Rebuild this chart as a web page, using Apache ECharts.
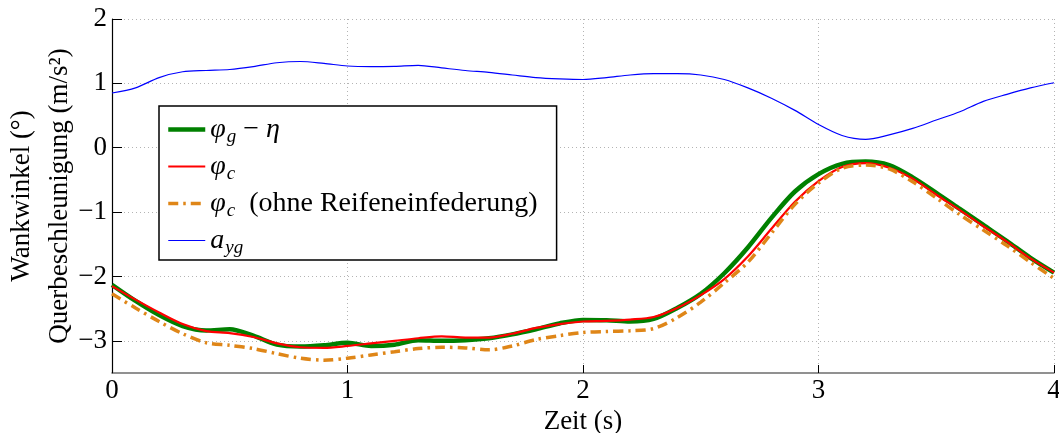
<!DOCTYPE html>
<html>
<head>
<meta charset="utf-8">
<script src="https://cdn.jsdelivr.net/npm/echarts@6/dist/echarts.min.js"></script>
<style>
  html, body { margin: 0; padding: 0; background: #fff; }
  #chart { width: 1059px; height: 433px; }
</style>
</head>
<body>
<div id="chart"></div>
<script>
// Zeitachse (s), Abtastung 0.1 s
const zeit = [0.0, 0.1, 0.2, 0.3, 0.4, 0.5, 0.6, 0.7, 0.8, 0.9,
              1.0, 1.1, 1.2, 1.3, 1.4, 1.5, 1.6, 1.7, 1.8, 1.9,
              2.0, 2.1, 2.2, 2.3, 2.4, 2.5, 2.6, 2.7, 2.8, 2.9,
              3.0, 3.1, 3.2, 3.3, 3.4, 3.5, 3.6, 3.7, 3.8, 3.9, 4.0];

// Wankwinkel phi_g - eta (°)
const phiGminusEta = [-2.13, -2.38, -2.60, -2.77, -2.84, -2.82, -2.92, -3.06, -3.09, -3.07,
                      -3.03, -3.08, -3.06, -2.99, -3.00, -2.99, -2.96, -2.90, -2.82, -2.73,
                      -2.675, -2.68, -2.70, -2.66, -2.49, -2.27, -1.95, -1.55, -1.09, -0.68,
                      -0.41, -0.25, -0.215, -0.27, -0.46, -0.70, -0.95, -1.20, -1.45, -1.71, -1.94];

// Wankwinkel phi_c (°)
const phiC = [-2.15, -2.36, -2.56, -2.74, -2.85, -2.88, -2.94, -3.04, -3.10, -3.11,
              -3.08, -3.04, -3.00, -2.96, -2.93, -2.95, -2.95, -2.89, -2.80, -2.74,
              -2.70, -2.69, -2.67, -2.63, -2.49, -2.29, -2.04, -1.69, -1.26, -0.84,
              -0.52, -0.30, -0.24, -0.31, -0.48, -0.73, -0.97, -1.22, -1.46, -1.72, -1.94];

// Wankwinkel phi_c ohne Reifeneinfederung (°)
const phiCohneReifen = [-2.27, -2.49, -2.70, -2.89, -3.03, -3.07, -3.12, -3.20, -3.27, -3.30,
                        -3.27, -3.22, -3.17, -3.12, -3.10, -3.11, -3.14, -3.08, -2.98, -2.92,
                        -2.87, -2.855, -2.845, -2.81, -2.64, -2.40, -2.10, -1.78, -1.33, -0.88,
                        -0.55, -0.32, -0.27, -0.33, -0.53, -0.78, -1.04, -1.28, -1.52, -1.78, -2.03];

// Querbeschleunigung a_yg (m/s²)
const ayg = [0.85, 0.93, 1.09, 1.18, 1.20, 1.215, 1.26, 1.32, 1.34, 1.31,
             1.27, 1.26, 1.265, 1.28, 1.24, 1.20, 1.17, 1.13, 1.09, 1.07,
             1.06, 1.09, 1.13, 1.15, 1.15, 1.13, 1.06, 0.93, 0.77, 0.58,
             0.36, 0.19, 0.13, 0.20, 0.30, 0.43, 0.56, 0.72, 0.83, 0.93, 1.01];

// Achsenbeschriftungen
const xTicks = [0, 1, 2, 3, 4];
const yTicks = [-3, -2, -1, 0, 1, 2];

const serif = '"Liberation Serif", "DejaVu Serif", serif';
const pair = ys => zeit.map((t, i) => [t, ys[i]]);
const minus = v => (v < 0 ? '\u2212' + Math.abs(v) : String(v));

// Linienstile der vier Kurven
const styles = {
  phiG:  { color: '#008000', width: 4.5, type: 'solid' },
  phiC:  { color: '#ff0000', width: 2.2, type: 'solid' },
  phiC0: { color: '#df8618', width: 3.5, type: [10, 5, 2.5, 5] },
  ayg:   { color: '#0000ff', width: 1.2, type: 'solid' }
};

// Legendentexte mit Index-Notation
const legendText = {
  phiG: '{m|φ}{s|g}{n| \u2212 }{m|η}',
  phiC: '{m|φ}{s|c}',
  phiC0: '{m|φ}{s|c}{n|  (ohne Reifeneinfederung)}',
  ayg: '{m|a}{s|yg}'
};

const order = ['phiG', 'phiC', 'phiC0', 'ayg'];
const values = { phiG: phiGminusEta, phiC: phiC, phiC0: phiCohneReifen, ayg: ayg };

const chart = echarts.init(document.getElementById('chart'), null, { renderer: 'canvas' });

chart.setOption({
  animation: false,
  backgroundColor: '#ffffff',
  grid: { left: 112, right: 5, top: 19, bottom: 60, containLabel: false, outerBoundsMode: 'none' },
  xAxis: {
    type: 'value', min: 0, max: 4, interval: 1,
    axisLine: { show: true, onZero: false, lineStyle: { color: '#6e6e6e', width: 1.6 } },
    axisTick: { show: true, inside: true, length: 8, lineStyle: { color: '#000', width: 1 } },
    axisLabel: {
      color: '#000', fontFamily: serif, fontSize: 27, margin: 4,
      customValues: xTicks, formatter: minus
    },
    splitLine: { show: true, lineStyle: { color: '#b4b4b4', width: 1, type: [1, 3] } },
    name: 'Zeit (s)', nameLocation: 'middle', nameGap: 31,
    nameTextStyle: { color: '#000', fontFamily: serif, fontSize: 27 }
  },
  yAxis: {
    type: 'value', min: -3.5, max: 2,
    axisLine: { show: true, onZero: false, lineStyle: { color: '#000', width: 1.2 } },
    axisTick: { show: true, inside: true, length: 10, customValues: yTicks, lineStyle: { color: '#000', width: 1 } },
    axisLabel: {
      color: '#000', fontFamily: serif, fontSize: 27, margin: 5,
      customValues: yTicks, formatter: minus
    },
    splitLine: { show: true, lineStyle: { color: '#b4b4b4', width: 1, type: [1, 3] } }
  },
  legend: {
    orient: 'vertical', left: 159, top: 106,
    itemWidth: 37, itemHeight: 12, itemGap: 4,
    padding: [7, 19, 3, 7],
    backgroundColor: '#fff',
    borderColor: '#000', borderWidth: 1.5,
    selectedMode: false,
    itemStyle: { opacity: 0 },
    formatter: name => legendText[name],
    textStyle: {
      color: '#000', fontFamily: serif, fontSize: 28,
      rich: {
        m: { fontFamily: serif, fontStyle: 'italic', fontSize: 28, lineHeight: 30, color: '#000' },
        s: { fontFamily: serif, fontStyle: 'italic', fontSize: 19, lineHeight: 16, padding: [14, 0, 0, 1], color: '#000' },
        n: { fontFamily: serif, fontSize: 28, lineHeight: 30, color: '#000' }
      }
    },
    data: order.map(k => ({ name: k, itemStyle: { opacity: 0 }, lineStyle: { width: styles[k].width, color: styles[k].color, type: styles[k].type } }))
  },
  graphic: [
    {
      type: 'text', x: 22, y: 196, rotation: Math.PI / 2,
      style: { text: 'Wankwinkel (°)', font: '27px ' + serif, fill: '#000', align: 'center', verticalAlign: 'middle' }
    },
    {
      type: 'text', x: 60, y: 196, rotation: Math.PI / 2,
      style: { text: 'Querbeschleunigung (m/s²)', font: '27px ' + serif, fill: '#000', align: 'center', verticalAlign: 'middle' }
    }
  ],
  series: order.map(k => ({
    name: k, type: 'line', data: pair(values[k]), smooth: 0.3,
    symbol: 'none',
    lineStyle: { color: styles[k].color, width: styles[k].width, type: styles[k].type },
    itemStyle: { color: styles[k].color }
  }))
});
</script>
</body>
</html>
